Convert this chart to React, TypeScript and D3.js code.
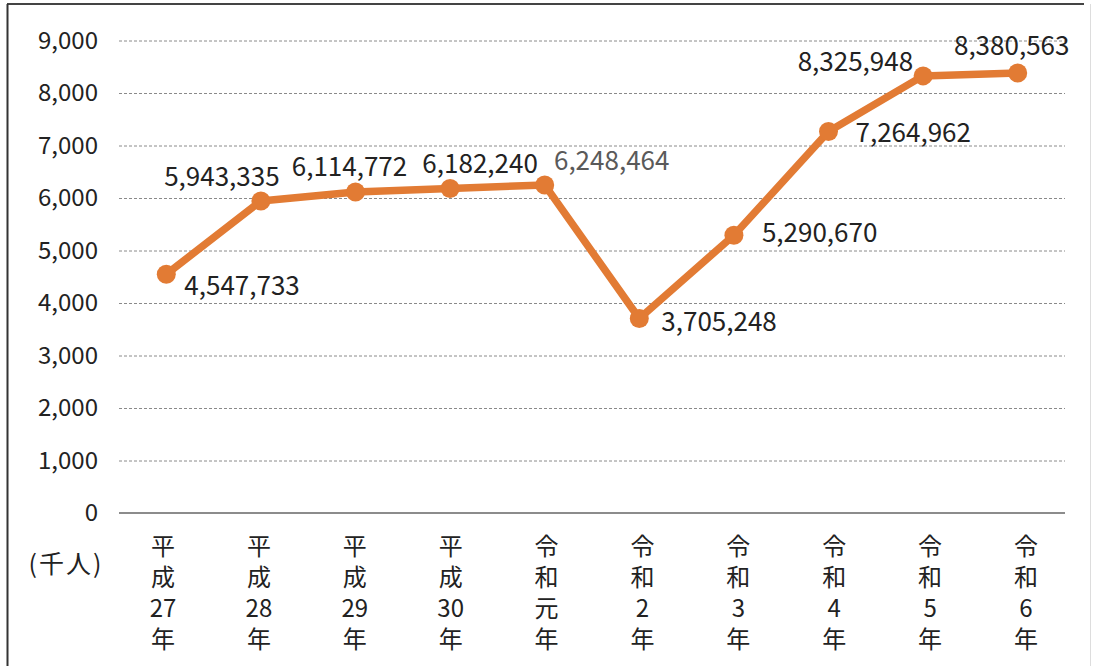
import React from "react";
import * as d3 from "d3";

const categories = ["平成27年", "平成28年", "平成29年", "平成30年", "令和元年", "令和2年", "令和3年", "令和4年", "令和5年", "令和6年"];
const labelLines = [
  ["平", "成", "27", "年"],
  ["平", "成", "28", "年"],
  ["平", "成", "29", "年"],
  ["平", "成", "30", "年"],
  ["令", "和", "元", "年"],
  ["令", "和", "2", "年"],
  ["令", "和", "3", "年"],
  ["令", "和", "4", "年"],
  ["令", "和", "5", "年"],
  ["令", "和", "6", "年"],
];
const visitors = [4547733, 5943335, 6114772, 6182240, 6248464, 3705248, 5290670, 7264962, 8325948, 8380563];
const yTicks = [0, 1000, 2000, 3000, 4000, 5000, 6000, 7000, 8000, 9000];
const unitLabel = "(千人)";

// label placement relative to each point: [anchor, dx, dy]
const labelPlacement: [string, number, number][] = [
  ["start", 18, 12],
  ["middle", -39, -24],
  ["middle", -6, -25],
  ["middle", 30, -25],
  ["middle", 67, -24],
  ["start", 22, 3],
  ["start", 28, -2],
  ["start", 27, 1],
  ["end", -10, -14],
  ["middle", -6, -27],
];

const W = 1093;
const H = 666;
const FONT = "'Noto Sans CJK JP', 'Noto Sans', sans-serif";
const ORANGE = "#E27B34";

export default function App() {
  const x = d3.scaleBand<string>().domain(categories).range([119, 1065]);
  const xLab = d3.scalePoint<string>().domain(categories).range([163, 1026]);
  const y = d3.scaleLinear().domain([0, 9000]).range([513, 40.5]);
  const fmt = d3.format(",");
  const cx = (c: string) => (x(c) as number) + x.bandwidth() / 2;
  const line = d3
    .line<number>()
    .x((_, i) => cx(categories[i]))
    .y((v) => y(v / 1000));

  return (
    <svg
      width={W}
      height={H}
      style={{ position: "absolute", left: 0, top: 0, background: "#fff" }}
      fontFamily={FONT}
    >
      <rect x={0} y={0} width={W} height={H} fill="#fff" />
      {/* frame */}
      <line x1={7} y1={4} x2={1084} y2={4} stroke="#444" strokeWidth={2} />
      <line x1={7.5} y1={4} x2={7.5} y2={H} stroke="#333" strokeWidth={2} />
      <line x1={1090.5} y1={4} x2={1090.5} y2={H} stroke="#ddd" strokeWidth={1} />

      {/* gridlines */}
      {yTicks.map((t) =>
        t === 0 ? (
          <line key={t} x1={119} x2={1065} y1={y(t)} y2={y(t)} stroke="#666" strokeWidth={1.6} />
        ) : (
          <line
            key={t}
            x1={119}
            x2={1065}
            y1={y(t) + 0.5}
            y2={y(t) + 0.5}
            stroke="#8a8a8a"
            strokeWidth={1}
            strokeDasharray="3,2"
          />
        )
      )}
      {/* y tick labels */}
      {yTicks.map((t) => (
        <text key={t} x={98} y={y(t)} dy="0.35em" textAnchor="end" fontSize={24} fill="#222">
          {fmt(t)}
        </text>
      ))}
      <text x={66} y={564} dy="0.35em" textAnchor="middle" fontSize={25} letterSpacing={2} fill="#222">
        {unitLabel}
      </text>

      {/* x labels */}
      {categories.map((c, i) => (
        <text key={c} x={xLab(c)} y={547} textAnchor="middle" fontSize={24} fill="#222">
          {labelLines[i].map((s, j) => (
            <tspan key={j} x={xLab(c)} dy={j === 0 ? "0.35em" : 31}>
              {s}
            </tspan>
          ))}
        </text>
      ))}

      {/* line */}
      <path d={line(visitors) || ""} fill="none" stroke={ORANGE} strokeWidth={7.5} strokeLinejoin="round" />
      {visitors.map((v, i) => (
        <circle key={i} cx={cx(categories[i])} cy={y(v / 1000)} r={9.5} fill={ORANGE} />
      ))}

      {/* data labels */}
      {visitors.map((v, i) => {
        const [anchor, dx, dy] = labelPlacement[i];
        return (
          <text
            key={i}
            x={cx(categories[i]) + dx}
            y={y(v / 1000) + dy}
            dy="0.35em"
            textAnchor={anchor as any}
            fontSize={26}
            fill={i === 4 ? "#5a5a5a" : "#222"}
          >
            {fmt(v)}
          </text>
        );
      })}
    </svg>
  );
}
